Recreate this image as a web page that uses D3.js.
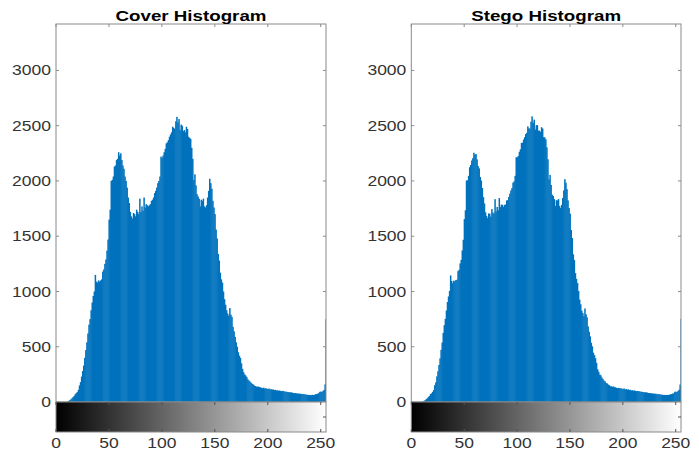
<!DOCTYPE html>
<html>
<head>
<meta charset="utf-8">
<script src="https://cdn.jsdelivr.net/npm/d3@7/dist/d3.min.js"></script>
<style>
  body { margin: 0; background: #fff; }
  svg { display: block; }
</style>
</head>
<body>
<div id="graph-container"></div>
<script>
// grey levels 0..255
var levels = d3.range(256);

// cover image histogram (counts per grey level)
var coverCounts = [
  0,0,0,0,0,0,0,0,0,0,0,5,10,18,25,35,45,55,70,80,
  90,110,150,180,230,280,330,400,470,540,620,700,750,830,900,960,1000,1150,1090,1080,
  1100,1090,1100,1110,1180,1200,1250,1290,1370,1470,1650,1740,2000,2010,2040,2130,2140,2190,2200,2260,
  2230,2250,2190,2140,2110,2040,2000,1940,1850,1800,1720,1680,1660,1710,1700,1680,1740,1720,1700,1840,
  1720,1770,1730,1850,1760,1790,1780,1770,1780,1790,1820,1830,1850,1890,1910,1940,1980,2000,2040,2220,
  2210,2230,2260,2290,2340,2350,2370,2400,2420,2440,2490,2480,2470,2540,2580,2530,2560,2460,2510,2500,
  2450,2460,2440,2490,2470,2400,2390,2380,2300,2200,2010,2060,1960,1880,1860,1840,1770,1830,1820,1840,
  1770,1760,1780,1850,1910,2020,1980,1930,1820,1760,1700,1560,1480,1340,1280,1170,1110,1080,1000,930,
  880,830,800,780,850,790,770,680,640,590,540,500,450,420,400,350,300,270,250,240,
  225,205,195,185,175,165,160,150,145,140,138,140,135,132,128,125,130,122,125,120,
  118,122,114,116,112,114,108,110,104,106,102,104,100,98,101,97,95,93,92,90,
  88,87,88,84,82,80,81,78,77,76,74,75,72,71,72,68,67,66,64,63,
  64,62,65,63,66,70,72,75,80,92,94,90,100,110,160,750
];

// stego image histogram
var stegoCounts = [
  0,0,0,0,0,0,0,0,0,0,0,4,11,17,26,34,46,54,72,78,
  92,108,152,178,232,278,335,395,472,538,625,695,752,828,905,955,1005,1145,1095,1075,
  1098,1092,1104,1106,1184,1196,1254,1286,1372,1468,1655,1735,2004,2006,2046,2124,2145,2185,2206,2255,
  2236,2244,2195,2135,2114,2036,2004,1936,1854,1796,1716,1684,1664,1706,1704,1676,1745,1715,1705,1835,
  1725,1765,1735,1845,1764,1786,1784,1766,1784,1786,1824,1826,1855,1885,1914,1936,1984,1996,2046,2214,
  2214,2226,2264,2286,2344,2346,2374,2396,2424,2436,2494,2476,2474,2536,2584,2526,2555,2465,2505,2505,
  2455,2455,2444,2486,2474,2396,2394,2376,2304,2196,2015,2055,1964,1876,1864,1836,1774,1826,1824,1836,
  1774,1756,1784,1846,1914,2016,1984,1926,1824,1756,1704,1556,1484,1336,1284,1166,1114,1076,1004,926,
  884,826,804,776,846,794,766,684,636,594,536,504,446,424,396,354,296,274,248,242,
  222,208,193,187,172,168,158,152,143,142,137,141,134,133,127,126,128,124,124,121,
  117,123,113,117,111,115,107,111,103,107,101,105,99,99,100,98,94,94,91,91,
  87,88,87,85,81,81,80,79,76,77,73,76,71,72,71,69,66,67,63,64,
  63,63,64,64,65,71,71,76,79,93,93,91,99,111,158,752
];

var panelTitles = ["Cover Histogram", "Stego Histogram"];
var xTicks = [0, 50, 100, 150, 200, 250];
var yTicks = [0, 500, 1000, 1500, 2000, 2500, 3000];

var width = 699, height = 452;
var axisColor = "#8a8a8a", textColor = "#333";
var fontFamily = "'Liberation Sans', Arial, Helvetica, sans-serif";
var stretch = "scale(1.25,1)"; // the original picture is stretched sideways

var svg = d3.select("#graph-container").append("svg")
  .attr("width", width)
  .attr("height", height);

var defs = svg.append("defs");

// grey colour bar gradient
var grad = defs.append("linearGradient")
  .attr("id", "greybar").attr("x1", "0%").attr("x2", "100%");
grad.append("stop").attr("offset", "0%").attr("stop-color", "#000");
grad.append("stop").attr("offset", "100%").attr("stop-color", "#fff");

var panels = [
  { left: 56, right: 326, counts: coverCounts, title: panelTitles[0] },
  { left: 411.3, right: 681, counts: stegoCounts, title: panelTitles[1] }
];
var plotTop = 24, base = 402, barBottom = 432;

panels.forEach(function (p, k) {
  var x = d3.scaleLinear().domain([0, 255]).range([p.left, p.right]);
  var y = d3.scaleLinear().domain([0, 3420]).range([base, plotTop]);
  var g = svg.append("g");

  defs.append("clipPath").attr("id", "clip" + k)
    .append("rect").attr("x", p.left).attr("y", plotTop)
    .attr("width", p.right - p.left).attr("height", base - plotTop);

  // bars (a bit wider than one bin so the antialiasing only leaves thin light lines)
  g.append("g").attr("clip-path", "url(#clip" + k + ")")
    .selectAll("rect").data(levels).enter().append("rect")
    .attr("x", d => x(d - 0.5))
    .attr("width", x(1) - x(0) + 0.45)
    .attr("y", d => y(p.counts[d]))
    .attr("height", d => base - y(p.counts[d]))
    .attr("fill", "#0072BD");

  // axes box
  g.append("rect")
    .attr("x", p.left).attr("y", plotTop)
    .attr("width", p.right - p.left).attr("height", base - plotTop)
    .attr("fill", "none").attr("stroke", axisColor).attr("stroke-width", 1);

  // y ticks, both sides inward
  yTicks.forEach(function (t) {
    g.append("line").attr("x1", p.left).attr("x2", p.left + 3)
      .attr("y1", y(t)).attr("y2", y(t)).attr("stroke", axisColor);
    g.append("line").attr("x1", p.right).attr("x2", p.right - 3)
      .attr("y1", y(t)).attr("y2", y(t)).attr("stroke", axisColor);
    g.append("text")
      .attr("transform", "translate(" + (p.left - 5) + "," + y(t) + ") " + stretch)
      .attr("text-anchor", "end").attr("dy", "0.36em")
      .attr("font-family", fontFamily).attr("font-size", 14)
      .attr("fill", textColor).text(t);
  });

  // x ticks at top of axes
  xTicks.forEach(function (t) {
    g.append("line").attr("x1", x(t)).attr("x2", x(t))
      .attr("y1", plotTop).attr("y2", plotTop + 3).attr("stroke", axisColor);
  });

  // colour bar
  g.append("rect")
    .attr("x", p.left).attr("y", base)
    .attr("width", p.right - p.left).attr("height", barBottom - base)
    .attr("fill", "url(#greybar)").attr("stroke", axisColor);
  xTicks.forEach(function (t) {
    g.append("line").attr("x1", x(t)).attr("x2", x(t))
      .attr("y1", base).attr("y2", base + 3).attr("stroke", "#555");
    g.append("line").attr("x1", x(t)).attr("x2", x(t))
      .attr("y1", barBottom).attr("y2", barBottom - 3).attr("stroke", "#555");
    g.append("text")
      .attr("transform", "translate(" + x(t) + "," + (barBottom + 15.5) + ") " + stretch)
      .attr("text-anchor", "middle")
      .attr("font-family", fontFamily).attr("font-size", 14)
      .attr("fill", textColor).text(t);
  });
  g.append("line").attr("x1", p.right).attr("x2", p.right - 3)
    .attr("y1", (base + barBottom) / 2).attr("y2", (base + barBottom) / 2)
    .attr("stroke", "#555");

  // title
  g.append("text")
    .attr("transform", "translate(" + ((p.left + p.right) / 2) + ",20.5) " + stretch)
    .attr("text-anchor", "middle")
    .attr("font-family", fontFamily).attr("font-size", 15).attr("font-weight", "bold")
    .attr("fill", "#000").text(p.title);
});
</script>
</body>
</html>
